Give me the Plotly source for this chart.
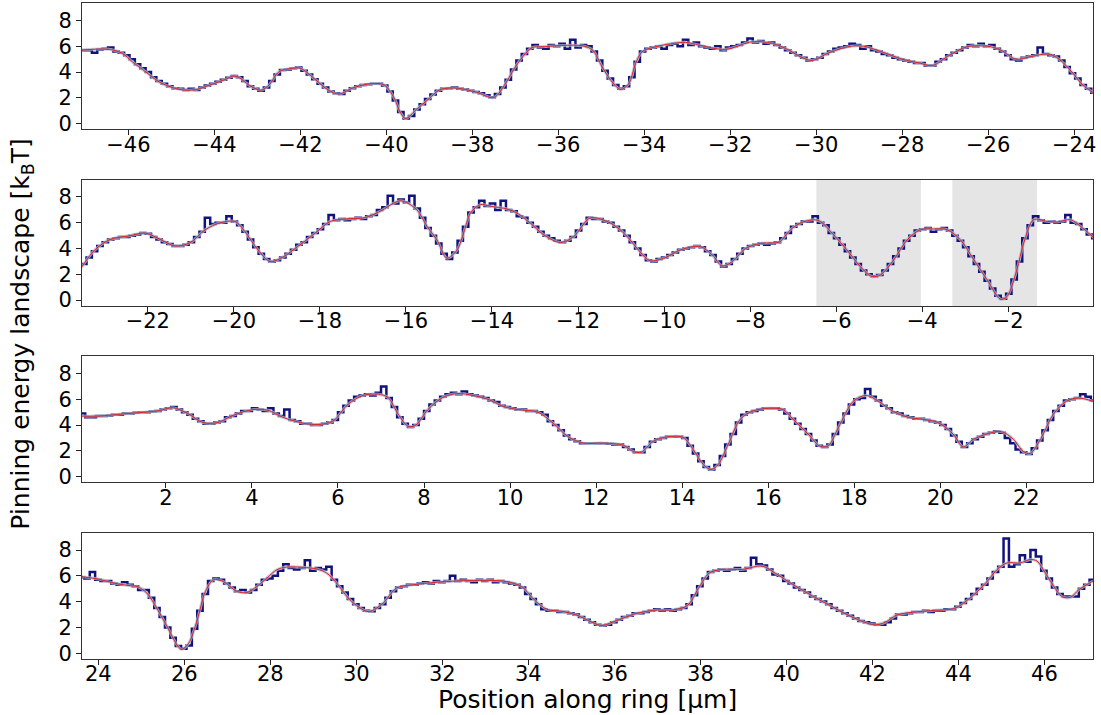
import numpy as np
import plotly.graph_objects as go

# ---------------- data ----------------
axis_ranges = [(-47.08, -23.56), (-23.53, -0.03), (0.05, 23.55), (23.62, 47.13)]
bin_starts = [-47.1, -23.55, 0.0, 23.55]
bin_width = 0.125

# smooth fitted landscape (red / grey lines)
smooth1_x = [-47.1, -46.45, -46.14, -45.91, -45.6, -45.29, -44.98, -44.67, -44.43, -44.05, -43.73, -43.58,
             -43.43, -43.19, -42.92, -42.73, -42.5, -42.19, -42.0, -41.68, -41.35, -41.1, -40.75, -40.35,
             -40.05, -39.82, -39.68, -39.55, -39.3, -39.0, -38.77, -38.43, -37.92, -37.5, -37.23, -37.0,
             -36.76, -36.61, -36.38, -35.45, -35.2, -34.98, -34.75, -34.55, -34.36, -34.2, -34.05, -33.74,
             -33.04, -32.73, -32.11, -31.49, -31.02, -30.63, -30.4, -30.1, -29.7, -29.2, -28.9, -28.5,
             -28.0, -27.6, -27.3, -26.9, -26.5, -26.0, -25.7, -25.35, -25.0, -24.6, -24.35, -24.05,
             -23.8, -23.55]
smooth1_y = [5.7, 5.76, 5.45, 4.8, 4.02, 3.24, 2.8, 2.59, 2.64, 3.06, 3.45, 3.68,
             3.58, 2.98, 2.59, 2.98, 4.02, 4.28, 4.3, 3.5, 2.6, 2.3, 2.8, 3.1,
             3.0, 2.0, 0.9, 0.39, 1.1, 1.95, 2.6, 2.77, 2.46, 2.02, 3.1, 4.4,
             5.45, 5.9, 5.96, 6.04, 5.7, 4.4, 3.24, 2.65, 3.1, 4.67, 5.57, 5.96,
             6.3, 6.09, 5.76, 6.35, 6.22, 5.7, 5.24, 4.9, 5.5, 6.0, 6.0, 5.6,
             5.0, 4.7, 4.5, 5.3, 5.95, 6.0, 5.7, 5.0, 5.2, 5.4, 5.0, 4.0,
             3.0, 2.4]

smooth2_x = [-23.55, -23.23, -22.88, -22.41, -22.06, -21.7, -21.37, -21.02, -20.67, -20.32, -19.97, -19.74,
             -19.44, -19.16, -18.88, -18.46, -18.11, -17.76, -17.41, -16.95, -16.6, -16.13, -15.75, -15.51,
             -15.28, -15.05, -14.81, -14.66, -14.5, -14.27, -14.04, -13.65, -13.42, -13.11, -12.8, -12.41,
             -12.1, -11.72, -11.33, -11.02, -10.79, -10.56, -10.32, -9.97, -9.62, -9.16, -8.88, -8.65,
             -8.41, -8.11, -7.76, -7.41, -7.3, -7.06, -6.83, -6.52, -6.37, -6.06, -5.75, -5.44,
             -5.17, -4.97, -4.66, -4.35, -4.04, -3.73, -3.42, -3.11, -2.8, -2.49, -2.18, -2.03,
             -1.8, -1.64, -1.41, -1.1, -0.86, -0.55, -0.32, 0.0]
smooth2_y = [2.5, 3.9, 4.7, 5.0, 5.2, 4.7, 4.2, 4.45, 5.45, 6.0, 6.1, 5.3,
             3.9, 3.0, 3.3, 4.3, 5.2, 6.1, 6.3, 6.4, 6.89, 7.7, 7.02, 5.72,
             4.68, 3.26, 3.9, 5.2, 6.76, 7.41, 7.28, 7.07, 6.76, 5.98, 5.07, 4.47,
             4.94, 6.37, 6.11, 5.46, 4.68, 3.75, 3.05, 3.3, 3.9, 4.15, 3.5, 2.65,
             3.0, 4.0, 4.4, 4.45, 4.55, 5.46, 5.98, 6.24, 6.11, 5.07, 3.9, 2.61,
             1.83, 1.96, 3.13, 4.68, 5.46, 5.52, 5.46, 4.68, 3.13, 1.57, 0.07, 0.27,
             2.35, 4.43, 6.24, 6.11, 6.06, 6.24, 5.72, 4.82]

smooth3_x = [0.0, 0.42, 1.12, 1.81, 2.16, 2.51, 2.86, 3.21, 3.56, 4.02, 4.37, 4.72,
             5.19, 5.53, 5.88, 6.23, 6.58, 6.93, 7.16, 7.4, 7.63, 7.81, 8.09, 8.44,
             8.79, 9.14, 9.49, 9.84, 10.19, 10.65, 11.0, 11.35, 11.7, 12.16, 12.63, 12.86,
             13.05, 13.33, 13.67, 14.02, 14.26, 14.49, 14.67, 14.84, 15.07, 15.35, 15.65, 16.0,
             16.35, 16.58, 16.93, 17.21, 17.4, 17.63, 17.98, 18.28, 18.56, 18.91, 19.26, 19.6,
             19.95, 20.3, 20.53, 20.77, 21.12, 21.42, 21.7, 21.93, 22.09, 22.33, 22.63, 22.93,
             23.21, 23.55]
smooth3_y = [4.7, 4.7, 4.9, 5.1, 5.35, 4.9, 4.2, 4.2, 4.75, 5.2, 5.15, 4.6,
             4.15, 4.05, 4.3, 5.6, 6.3, 6.4, 6.15, 4.85, 3.9, 4.0, 5.2, 6.15,
             6.45, 6.3, 6.0, 5.45, 5.2, 5.0, 4.15, 3.1, 2.6, 2.6, 2.45, 1.95,
             1.9, 2.75, 3.1, 3.05, 2.1, 0.95, 0.55, 0.95, 2.5, 4.45, 5.1, 5.3,
             5.2, 4.45, 3.3, 2.35, 2.4, 3.8, 5.85, 6.3, 5.85, 5.05, 4.6, 4.45,
             4.2, 3.3, 2.3, 2.9, 3.35, 3.5, 2.9, 1.95, 1.8, 2.9, 4.85, 5.85,
             6.1, 5.85]

smooth4_x = [23.55, 24.0, 24.36, 24.75, 24.9, 25.13, 25.36, 25.6, 25.83, 25.93, 26.1, 26.3,
             26.49, 26.68, 26.91, 27.22, 27.45, 27.69, 27.92, 28.15, 28.38, 29.08, 29.31, 29.54,
             29.85, 30.16, 30.31, 30.62, 30.93, 31.3, 31.87, 32.33, 33.03, 33.5, 33.85, 34.15,
             34.43, 34.78, 35.13, 35.48, 35.71, 36.06, 36.53, 36.99, 37.34, 37.7, 37.95, 38.2,
             38.5, 38.97, 39.44, 39.79, 40.14, 40.6, 41.07, 41.53, 42.05, 42.3, 42.57, 43.35,
             43.81, 43.97, 44.36, 44.67, 44.9, 45.13, 45.44, 45.67, 45.83, 46.02, 46.22, 46.41,
             46.61, 46.8, 47.13]
smooth4_y = [5.95, 5.75, 5.44, 5.23, 5.18, 4.66, 3.49, 2.06, 0.64, 0.3, 0.77, 2.58,
             4.79, 5.7, 5.56, 4.79, 4.71, 5.18, 5.83, 6.47, 6.68, 6.53, 6.22, 5.44,
             4.14, 3.36, 3.23, 3.88, 5.05, 5.3, 5.5, 5.6, 5.65, 5.55, 5.15, 4.1,
             3.4, 3.25, 2.95, 2.4, 2.15, 2.55, 3.1, 3.35, 3.35, 3.7, 5.0, 6.2,
             6.5, 6.5, 6.75, 6.1, 5.35, 4.45, 3.6, 2.8, 2.2, 2.4, 2.96, 3.3,
             3.4, 3.56, 4.53, 5.57, 6.49, 7.0, 7.0, 7.27, 7.14, 6.23, 5.18, 4.39,
             4.34, 4.92, 5.6]

# measured (binned) landscape, one value per 0.125 um bin from the panel's first bin
step1_y = [5.7, 5.7, 5.5, 5.75, 5.8, 5.9, 5.6, 5.5,
           5.3, 5.0, 4.6, 4.3, 4.0, 3.6, 3.3, 3.1,
           2.9, 2.75, 2.7, 2.6, 2.7, 2.6, 2.8, 2.95,
           3.1, 3.25, 3.4, 3.55, 3.7, 3.6, 3.3, 2.9,
           2.7, 2.55, 2.8, 3.3, 3.8, 4.15, 4.2, 4.3,
           4.35, 4.1, 3.8, 3.45, 3.1, 2.8, 2.5, 2.35,
           2.3, 2.55, 2.75, 2.9, 3.0, 3.05, 3.1, 3.1,
           2.95, 2.5, 1.8, 0.9, 0.4, 0.6, 1.1, 1.5,
           1.9, 2.25, 2.55, 2.7, 2.75, 2.8, 2.7, 2.65,
           2.55, 2.45, 2.35, 2.2, 2.05, 2.3, 2.8, 3.4,
           4.2, 4.9, 5.4, 5.8, 6.1, 5.9, 5.8, 6.1,
           6.0, 6.2, 5.8, 6.5, 5.9, 6.1, 6.0, 5.6,
           4.9, 4.1, 3.5, 3.0, 2.7, 2.9, 3.6, 4.8,
           5.6, 5.8, 5.9, 6.0, 5.8, 6.1, 6.2, 6.0,
           6.5, 6.1, 6.3, 6.0, 5.9, 5.8, 6.0, 5.7,
           5.9, 6.0, 6.1, 6.3, 6.6, 6.3, 6.4, 6.2,
           6.3, 6.1, 5.9, 5.7, 5.5, 5.3, 5.1, 4.9,
           5.0, 5.1, 5.4, 5.6, 5.8, 5.9, 6.0, 6.2,
           6.1, 5.8, 6.0, 5.7, 5.6, 5.4, 5.3, 5.1,
           5.0, 4.9, 4.8, 4.7, 4.7, 4.5, 4.5, 4.8,
           5.0, 5.3, 5.5, 5.7, 5.9, 6.1, 6.0, 6.2,
           6.0, 6.1, 5.8, 5.6, 5.3, 5.0, 4.9, 5.1,
           5.2, 5.3, 5.9, 5.4, 5.3, 5.2, 4.9, 4.4,
           3.9, 3.5, 3.0, 2.7, 2.4]
step2_y = [2.8, 3.3, 3.8, 4.2, 4.5, 4.7, 4.8, 4.9,
           4.9, 5.0, 5.1, 5.2, 5.15, 4.9, 4.7, 4.5,
           4.35, 4.2, 4.2, 4.3, 4.5, 4.9, 5.3, 6.4,
           5.9, 6.0, 6.0, 6.5, 6.1, 5.8, 5.3, 4.7,
           4.1, 3.6, 3.2, 3.0, 3.1, 3.3, 3.6, 3.9,
           4.3, 4.5, 4.9, 5.2, 5.5, 5.9, 6.6, 6.2,
           6.3, 6.2, 6.3, 6.4, 6.3, 6.5, 6.6, 7.0,
           7.2, 8.1, 7.5, 7.8, 7.6, 8.1, 7.1, 6.4,
           5.6, 5.0, 4.4, 3.6, 3.2, 3.7, 4.6, 5.7,
           6.8, 7.2, 7.7, 7.3, 7.5, 7.0, 7.7, 7.0,
           6.9, 6.5, 6.4, 6.0, 5.7, 5.3, 5.0, 4.8,
           4.6, 4.5, 4.6, 4.9, 5.4, 5.9, 6.4, 6.3,
           6.3, 6.1, 6.0, 5.7, 5.4, 5.0, 4.5, 4.0,
           3.5, 3.1, 3.0, 3.2, 3.3, 3.5, 3.7, 3.9,
           4.0, 4.1, 4.2, 4.1, 3.8, 3.5, 3.0, 2.6,
           2.8, 3.2, 3.6, 4.0, 4.2, 4.3, 4.4, 4.3,
           4.4, 4.5, 4.8, 5.2, 5.7, 5.9, 6.1, 6.1,
           6.5, 6.0, 5.8, 5.2, 4.8, 4.3, 3.8, 3.3,
           2.8, 2.3, 2.0, 1.85, 1.95, 2.3, 2.8, 3.4,
           4.0, 4.6, 5.0, 5.4, 5.5, 5.6, 5.3, 5.5,
           5.6, 5.4, 5.0, 4.6, 4.1, 3.4, 2.8, 2.2,
           1.5, 0.9, 0.35, 0.1, 0.5, 1.6, 3.0, 4.8,
           5.8, 6.5, 6.2, 6.0, 6.1, 6.0, 6.1, 6.6,
           6.0, 5.9, 5.5, 5.1, 4.8]
step3_y = [4.9, 4.6, 4.6, 4.7, 4.7, 4.75, 4.8, 4.8,
           4.9, 4.9, 4.95, 5.0, 5.0, 5.05, 5.1, 5.2,
           5.3, 5.4, 5.2, 5.0, 4.8, 4.5, 4.3, 4.1,
           4.1, 4.2, 4.3, 4.6, 4.7, 4.9, 5.1, 5.1,
           5.3, 5.2, 5.1, 5.3, 4.9, 4.7, 5.2, 4.4,
           4.3, 4.1, 4.1, 4.0, 4.0, 4.1, 4.2, 4.4,
           5.0, 5.5, 5.9, 6.2, 6.3, 6.4, 6.3, 6.5,
           7.0, 6.1, 5.4, 4.6, 4.1, 3.85, 4.0, 4.5,
           5.1, 5.6, 5.9, 6.2, 6.4, 6.5, 6.4, 6.6,
           6.4, 6.3, 6.2, 6.1, 5.9, 5.8, 5.5, 5.4,
           5.3, 5.2, 5.2, 5.1, 5.1, 5.0, 4.8, 4.3,
           4.0, 3.6, 3.2, 2.9, 2.75, 2.6, 2.6, 2.6,
           2.6, 2.6, 2.55, 2.5, 2.5, 2.3, 2.1, 1.9,
           1.9, 2.3, 2.7, 2.9, 3.0, 3.1, 3.1, 3.1,
           3.0, 2.4, 1.8, 1.2, 0.75, 0.55, 0.9, 1.6,
           2.5, 3.3, 4.2, 4.8, 5.0, 5.1, 5.2, 5.3,
           5.3, 5.3, 5.2, 4.9, 4.5, 4.1, 3.7, 3.3,
           2.8, 2.4, 2.3, 2.5, 3.3, 4.2, 4.9, 5.6,
           6.0, 6.1, 6.8, 6.2, 5.9, 5.5, 5.3, 5.0,
           4.9, 4.7, 4.6, 4.5, 4.5, 4.4, 4.3, 4.2,
           4.0, 3.7, 3.2, 2.7, 2.3, 2.6, 2.9, 3.1,
           3.3, 3.4, 3.5, 3.4, 3.0, 2.6, 2.1, 1.9,
           1.75, 2.2, 2.8, 3.6, 4.4, 5.1, 5.5, 5.9,
           6.0, 6.1, 6.4, 6.2, 5.9]
step4_y = [5.9, 5.8, 6.3, 5.7, 5.6, 5.6, 5.4, 5.3,
           5.5, 5.3, 5.2, 4.9, 4.9, 4.3, 3.5, 2.8,
           2.0, 1.2, 0.55, 0.35, 0.6, 1.9, 3.3, 4.6,
           5.6, 5.8, 5.7, 5.4, 5.1, 4.8, 4.9, 4.7,
           4.9, 5.3, 5.7, 5.8, 6.0, 6.4, 6.9, 6.6,
           6.5, 6.6, 7.2, 6.4, 6.6, 6.5, 6.7, 5.7,
           5.2, 4.7, 4.2, 3.8, 3.5, 3.3, 3.25, 3.5,
           3.8, 4.3, 4.8, 5.1, 5.2, 5.3, 5.3, 5.4,
           5.5, 5.4, 5.6, 5.5, 5.6, 6.0, 5.6, 5.7,
           5.6, 5.5, 5.7, 5.6, 5.7, 5.5, 5.6, 5.5,
           5.4, 5.3, 5.1, 4.6, 4.2, 3.8, 3.4, 3.3,
           3.3, 3.2, 3.2, 3.1, 3.0, 2.8, 2.6, 2.4,
           2.2, 2.15, 2.2, 2.4, 2.6, 2.8, 2.9, 3.1,
           3.1, 3.2, 3.3, 3.4, 3.3, 3.4, 3.3, 3.4,
           3.5, 3.8, 4.5, 5.2, 5.8, 6.3, 6.4, 6.5,
           6.4, 6.5, 6.6, 6.4, 6.6, 7.4, 6.9, 6.8,
           6.5, 6.1, 6.0, 5.6, 5.4, 5.1, 4.9, 4.7,
           4.4, 4.2, 4.0, 3.8, 3.5, 3.3, 3.1, 2.9,
           2.7, 2.5, 2.4, 2.3, 2.2, 2.2, 2.4, 2.7,
           3.0, 3.0, 3.1, 3.2, 3.2, 3.3, 3.2, 3.3,
           3.3, 3.4, 3.4, 3.6, 3.9, 4.2, 4.6, 5.0,
           5.3, 5.8, 6.3, 6.7, 8.9, 6.7, 6.9, 7.6,
           7.1, 8.0, 7.5, 6.4, 5.8, 5.1, 4.6, 4.4,
           4.4, 4.4, 5.0, 5.3, 5.7]

shaded_regions = [(-6.46, -4.03), (-3.30, -1.33)]

y_ticks = [0, 2, 4, 6, 8]
x_title = "Position along ring [μm]"
y_title = "Pinning energy landscape [k<sub>B</sub>T]"

smooth_x = [smooth1_x, smooth2_x, smooth3_x, smooth4_x]
smooth_y = [smooth1_y, smooth2_y, smooth3_y, smooth4_y]
step_y = [step1_y, step2_y, step3_y, step4_y]

# ---------------- figure ----------------
FONT = "DejaVu Sans"
fig = go.Figure()
period = 0.2691
height = 0.1926

for i in range(4):
    xa = "x" if i == 0 else f"x{i + 1}"
    ya = "y" if i == 0 else f"y{i + 1}"
    vals = step_y[i]
    edges = bin_starts[i] + bin_width * np.arange(len(vals) + 1)
    fig.add_trace(go.Scatter(x=edges, y=list(vals) + [vals[-1]], mode="lines",
                             line=dict(shape="hv", color="#12127e", width=2.5),
                             xaxis=xa, yaxis=ya, showlegend=False, hoverinfo="skip"))
    fig.add_trace(go.Scatter(x=smooth_x[i], y=smooth_y[i], mode="lines",
                             line=dict(shape="spline", smoothing=0.9, color="rgba(175,185,205,0.75)", width=3),
                             xaxis=xa, yaxis=ya, showlegend=False, hoverinfo="skip"))
    fig.add_trace(go.Scatter(x=smooth_x[i], y=smooth_y[i], mode="lines",
                             line=dict(shape="spline", smoothing=0.9, color="#dc2328", width=1),
                             xaxis=xa, yaxis=ya, showlegend=False, hoverinfo="skip"))

    bottom = (3 - i) * period
    axis_common = dict(showline=True, mirror=True, linecolor="#333333", linewidth=1,
                       ticks="outside", ticklen=5, tickwidth=1, tickcolor="#222222",
                       showgrid=False, zeroline=False,
                       tickfont=dict(family=FONT, size=21, color="black"))
    fig.layout[("xaxis" if i == 0 else f"xaxis{i + 1}")] = dict(
        axis_common, domain=[0, 1], range=list(axis_ranges[i]), dtick=2, tick0=0,
        ticklabelstandoff=-9, anchor=ya)
    fig.layout[("yaxis" if i == 0 else f"yaxis{i + 1}")] = dict(
        axis_common, domain=[bottom, min(bottom + height, 1.0)], range=[-0.45, 9.35],
        tickvals=y_ticks, anchor=xa)

for (a, b) in shaded_regions:
    fig.add_shape(type="rect", xref="x2", yref="y2 domain", x0=a, x1=b, y0=0, y1=1,
                  fillcolor="#e5e5e5", line_width=0, layer="below")

fig.add_annotation(text=x_title, xref="paper", yref="paper", x=0.5, y=-0.062,
                   xanchor="center", yanchor="middle", showarrow=False,
                   font=dict(family=FONT, size=25, color="black"))
fig.add_annotation(text=y_title, xref="paper", yref="paper", x=-0.059, y=0.495,
                   xanchor="center", yanchor="middle", showarrow=False, textangle=-90,
                   font=dict(family=FONT, size=25, color="black"))

fig.update_layout(width=1101, height=715, margin=dict(l=82, r=8, t=3, b=56),
                  plot_bgcolor="white", paper_bgcolor="white")

fig.write_html("out.html")
